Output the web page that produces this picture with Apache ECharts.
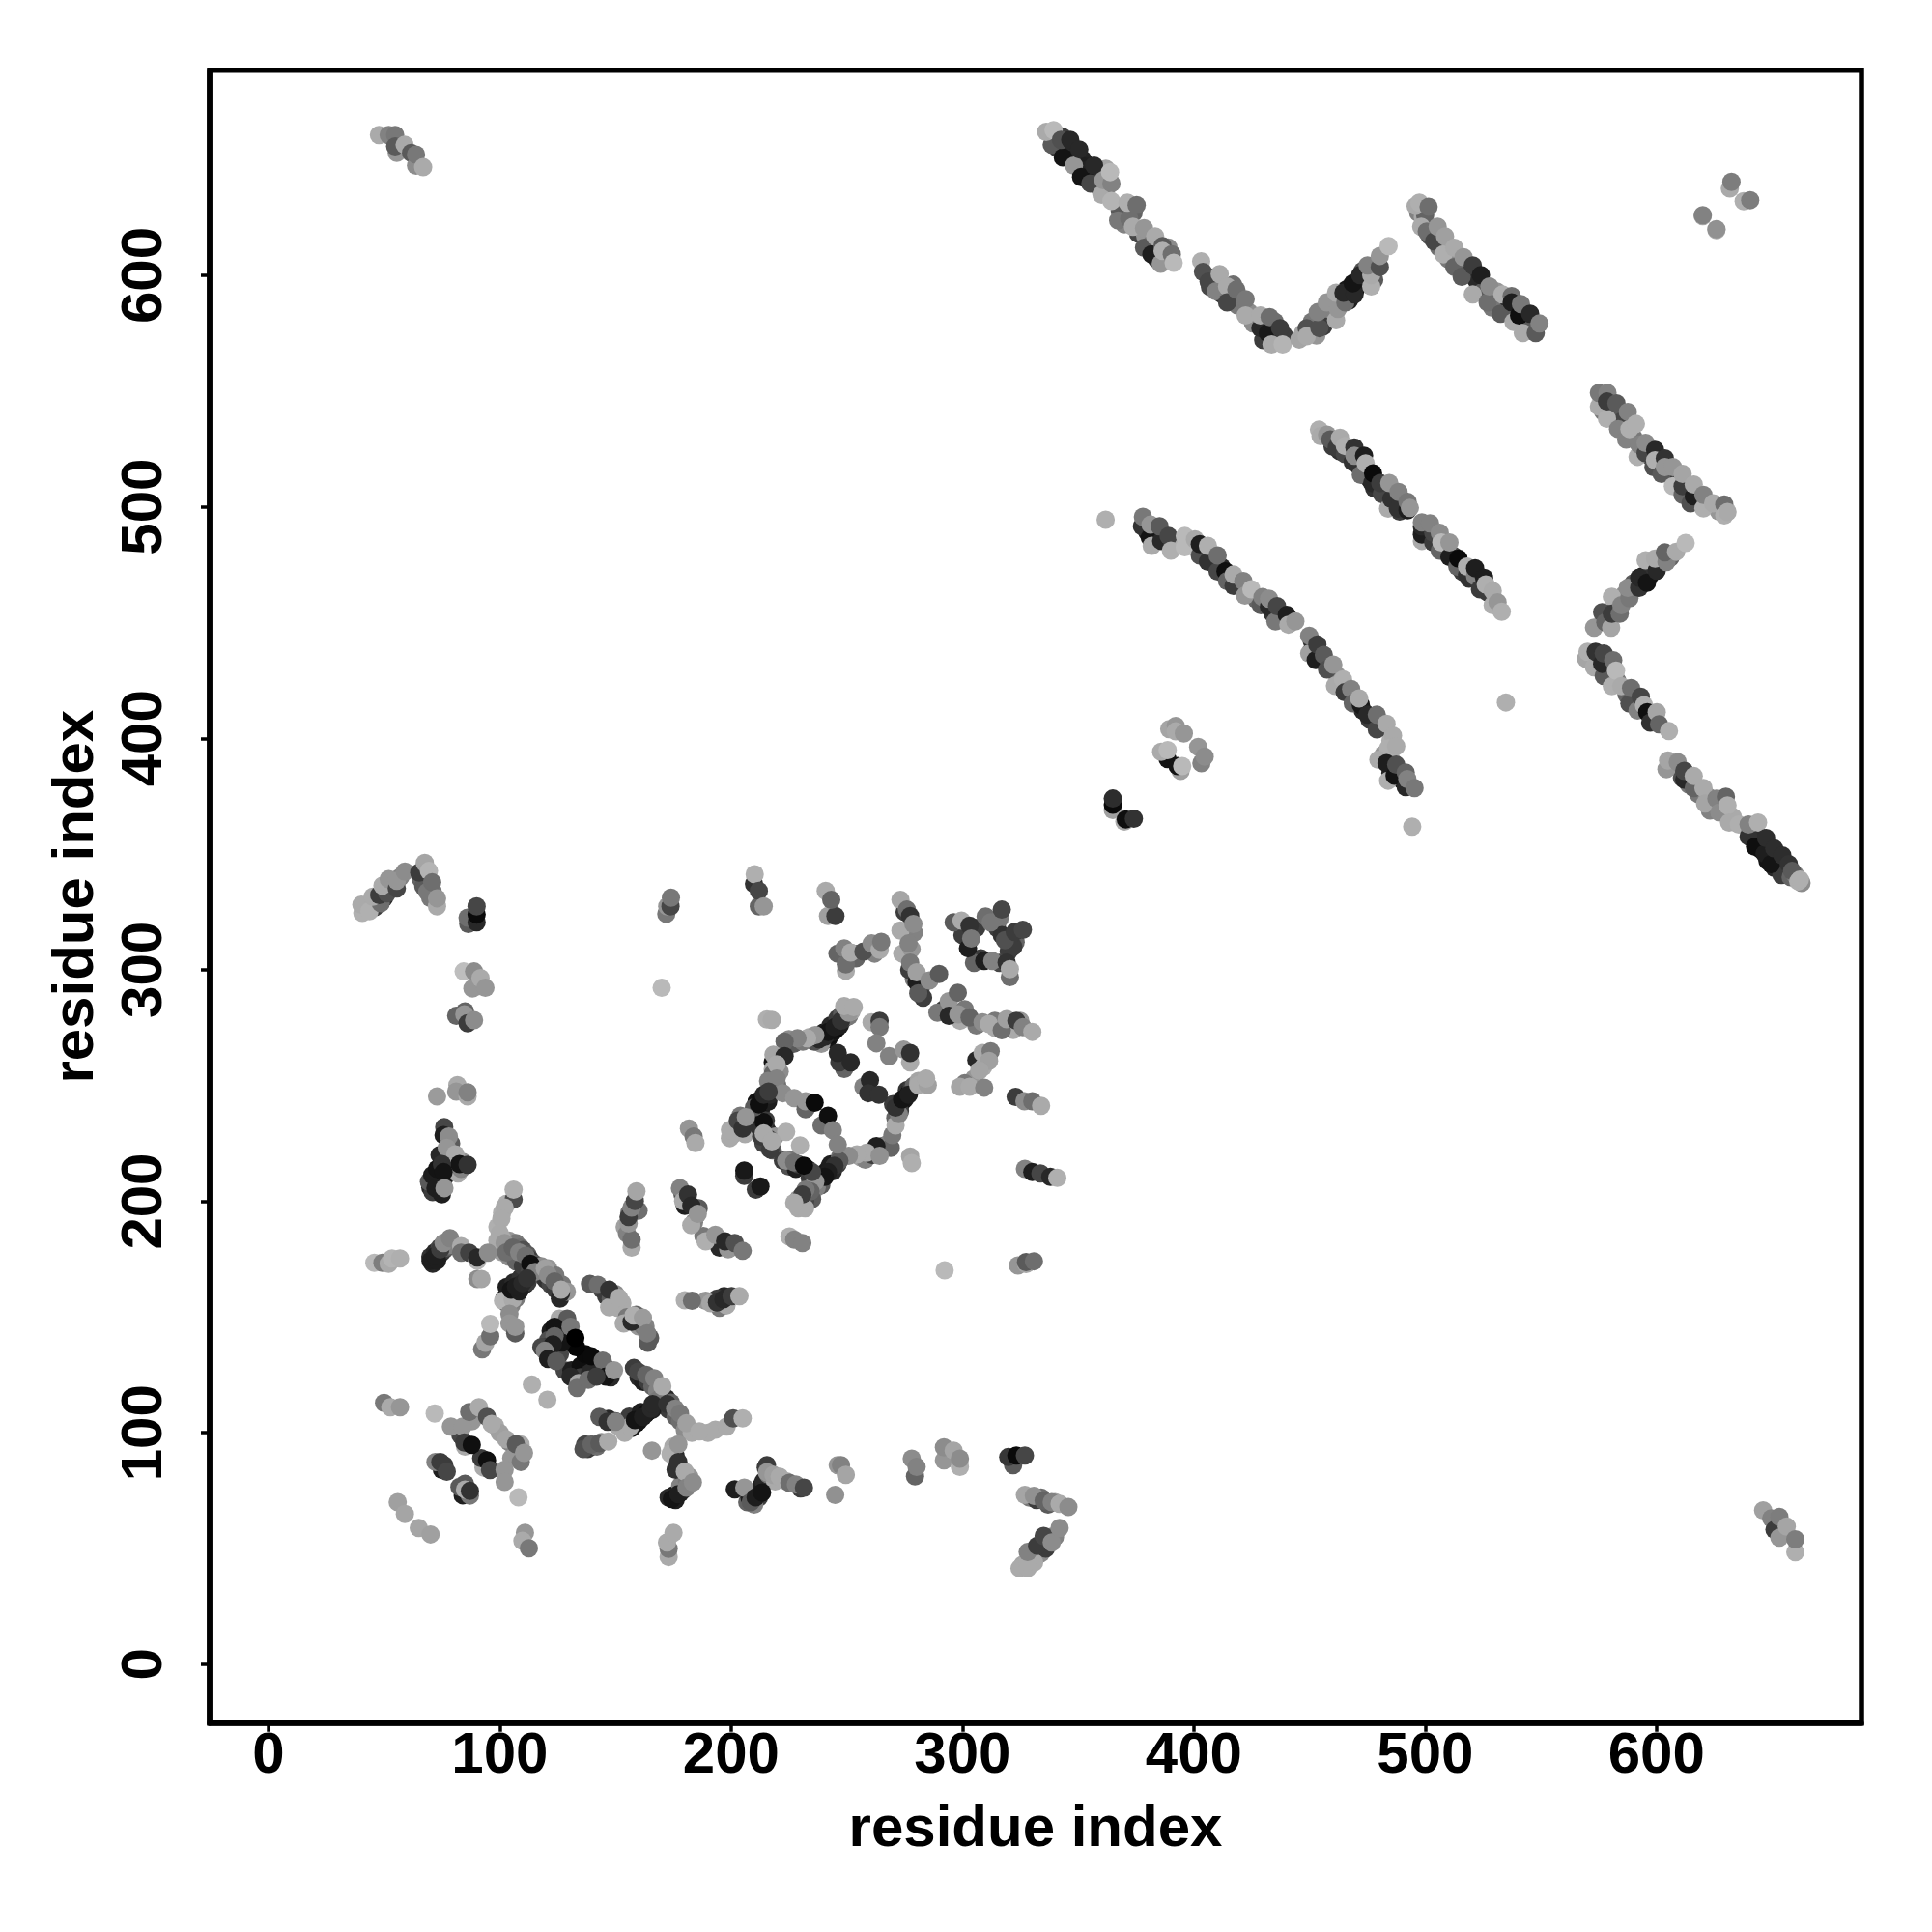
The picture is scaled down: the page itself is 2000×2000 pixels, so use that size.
<!DOCTYPE html>
<html><head><meta charset="utf-8">
<script src="https://cdn.jsdelivr.net/npm/echarts@6/dist/echarts.min.js"></script>
<style>html,body{margin:0;background:#fff}#c{width:2000px;height:2000px}</style></head>
<body><div id="c"></div>
<script>
// each contact: [residue x, residue y, grey level]
const tickValues = [0,100,200,300,400,500,600];
const axisTitle = "residue index";

const underLowerLeft = [
[70,206,40],[71,208,20],[72,209,25],[73,210,15],[74,211,25],[75,213,30],[76,214,20],[77,215,40],[71,204,60],[73,207,25],[74,208,20],[76,210,30],
[71,173,40],[72,175,20],[73,176,30],[74,177,25],[75,178,40],[76,179,60],[77,180,90],[70,176,50],[72,178,40],[74,180,70],[76,182,100],[78,181,130],
[102,158,20],[103,159,20],[104,160,15],[105,160,25],[106,162,15],[107,161,25],[108,163,20],[109,162,35],[110,165,25],[111,164,40],[112,165,60],[103,156,60],[105,155,130],[107,158,120],[103,163,30],[106,165,40],[109,167,50],
[104,183,150],[107,182,120],[109,180,110],[110,179,80],[112,177,90],[113,175,60],[115,173,90],[116,172,70],[118,168,80],[120,166,50],[122,164,70],[124,162,60],[126,158,40],[118,172,140],[121,171,150],[124,168,120],[127,164,120],[129,161,150],[100,180,170],[101,178,160],[104,176,140],[107,174,100],[110,172,60],[113,170,70],
[99,189,175],[99,183,170],[101,195,175],[103,199,175],[101,184,170],
[42,326,150],[44,329,100],[46,327,60],[47,330,50],[50,331,40],[52,335,60],[54,337,110],[57,340,130],[66,339,100],[67,336,90],[71,334,120],[70,331,120],
[127,147,60],[128,143,40],[122,144,30],[121,140,80],[120,137,60],[122,135,40],[118,137,70],[126,134,70],[128,127,70],[131,127,30],[135,129,15],[137,134,10],[141,131,20],[143,127,15],[146,128,40],[148,124,40],[135,124,60],[139,126,40],[133,137,5],[127,139,20],[125,145,50],
[144,162,70],[146,159,60],[148,158,90],[149,155,160],[151,154,170],[150,160,140],[153,156,170],[155,150,120],[160,146,150],[162,146,120],[165,141,90],[163,146,130],[159,151,100],
[158,128,60],[160,124,40],[162,122,30],[164,122,60],[166,120,100],[168,118,130],[170,115,15],[172,115,40],[173,110,60],[174,113,100],[176,107,100],[178,105,110],[180,101,140],[183,100,170],[190,100,170],[155,105,90],[156,107,60],[157,102,25],[159,104,15],[160,105,20],[161,109,30],[163,108,25],[164,109,15],[166,110,30],[168,114,120],[151,103,170],[154,100,170],[147,106,40],[150,105,60],
[137,95,70],[138,93,60],[140,94,60],[142,94,110],[144,96,150],
[175,73,25],[176,71,30],[178,74,25],[179,75,40],[180,77,60],[173,72,40],[178,77,130],[181,79,120],[182,81,150],[176,84,50],[176,90,40],[175,94,170],
[207,70,100],[208,72,30],[209,73,20],[211,74,25],[212,75,15],[213,77,30],[214,79,40],[215,85,60],[212,72,60],[210,69,130],[216,82,120],[219,79,170],[224,79,170],[230,76,60],
[83,99,70],[85,94,170],[93,85,170],[92,89,60],[98,103,170],[100,100,160],[104,96,130],[109,95,170],[88,105,150],[75,84,30],[76,86,60],[84,73,30],[85,78,90],[105,89,150],
[330,46,100],[334,48,140],[336,50,60],[338,55,130],[340,55,130],[331,44,170],[326,43,165],
[329,72,120],[332,71,60],[334,72,110],[337,69,90],[340,70,165]
];
const underLattice = [
[242,270,20],[243,272,15],[244,273,25],[245,274,20],[246,275,15],[247,276,30],[248,278,40],[249,279,80],[251,280,120],[250,283,170],[252,282,165],[240,273,30],[243,276,40],[246,279,60],[248,281,90],[239,268,150],[236,269,80],[238,270,40],
[225,270,140],[227,268,90],[231,269,120],[234,271,170],
[218,260,20],[218,257,170],[221,256,140],[218,255,100],[217,250,130],[220,250,110],[216,252,130],
[210,238,80],[211,243,20],[213,240,30],[213,244,15],[215,245,25],[216,243,30],[217,246,40],[218,249,130],[205,235,60],[207,233,50],[209,236,30],[203,232,60],[204,237,120],[201,229,150],[206,229,170],
[213,236,15],[215,232,30],[216,230,40],[215,235,60],[214,225,70],[218,222,90],[219,228,150],[213,228,60],
[225,215,80],[226,218,120],[228,214,30],[229,216,60],[233,214,40],[234,210,60],[236,211,120],
[238,209,30],[239,211,15],[240,212,20],[242,214,25],[243,216,30],[244,213,40],[246,216,60],[247,219,110],[239,207,90],[237,206,130],[235,201,90],[232,200,70],[229,201,150],[229,197,170],[232,197,170],
[272,240,30],[273,242,20],[274,243,15],[275,244,25],[276,248,50],[277,247,15],[278,249,60],[279,250,100],[281,252,165],[283,251,170],[270,242,60],[271,236,100],[273,239,60],
[256,219,160],[258,218,130],[261,220,60],[263,221,90],[266,224,110],[268,225,130],
[275,325,60],[279,316,130],[274,307,170],[278,309,150],[279,296,120],[277,300,60],[282,292,70],[283,288,60],
[292,283,60],[294,283,100],[296,282,60],[299,278,170],[301,283,120],[306,276,120],[314,275,170],[314,278,120],[320,275,90],[322,274,170],[325,278,150],
[306,318,60],[310,323,110],[315,318,60],[316,322,120],[323,312,100],[320,308,60],[317,315,50],[300,315,60],[308,305,60],[305,303,100],[316,303,70],[322,310,60],
[309,260,120],[306,261,40],[309,258,170],[305,253,150],[301,251,120],
[246,307,100],[253,307,60],[254,305,100],[262,307,130],
[160,196,110],[156,195,120],[154,189,160],[155,186,130],
[179,203,80],[180,198,30],[184,191,130],[188,185,120],[192,183,90],[195,180,40],[200,180,110],[186,197,90],
[85,282,100],[91,293,160],
[84,217,150],[82,212,170],[79,219,60],[74,220,40],[79,225,90],
[195,154,120],[197,159,40],[194,158,60],[198,155,170],[189,157,150]
];
const underTopLine = [
[341,655,60],[344,655,30],[344,653,20],[345,656,50],[346,651,25],[347,653,40],[348,650,20],[350,651,25],[350,648,15],[352,650,35],[352,646,25],[353,647,30],[354,644,25],[355,646,35],[357,642,40],[358,645,60],[353,642,20],[340,659,70],[343,660,60],[359,638,150],[362,637,170],[362,646,165],
[368,628,90],[370,622,130],[374,627,100],[376,618,70],[379,617,150],[380,612,60],[382,614,120],[384,607,50],[388,607,120],[385,609,15],[389,612,140],
[407,595,70],[408,599,80],[412,592,50],[416,590,60],[419,587,120],[417,596,110],[424,584,140],[426,581,150],[431,578,30],[434,578,40],[436,574,30],[435,580,110],[439,574,60],[430,572,60],
[450,576,130],[451,580,120],[456,581,110],[458,584,140],[460,583,130],[463,590,120],[467,589,30],[466,594,25],[470,594,15],[473,597,30],[473,602,80],[478,598,90],[456,578,60],[453,574,150],
[497,627,130],[499,625,170],[502,617,80],[506,612,110],[510,607,120],[514,606,140],[518,601,60],[522,598,40],[525,593,90],[530,589,110],[531,593,150],[535,585,100],[535,589,30],[539,584,100],[543,581,20],[544,578,90],[547,579,60],[546,577,90],[529,586,120],[500,626,100]
];
const underMidLines = [
[380,489,30],[383,488,30],[384,490,60],[387,487,90],[392,484,175],[399,483,185],[404,481,60],[408,478,80],[412,474,40],[416,468,80],[419,467,110],[423,463,130],[427,460,100],[431,458,50],[434,454,50],[437,454,40],[438,451,100],[442,450,170],
[451,442,60],[451,438,30],[454,437,60],[459,431,90],[462,427,150],[466,421,120],[470,417,60],[473,412,40],[476,408,60],[481,405,100],[485,399,175],[485,392,175],[482,393,150],[485,385,40],[488,384,40],[490,382,30],
[460,526,60],[463,524,50],[467,523,60],[471,518,20],[473,515,40],[476,512,20],[478,508,50],[483,505,60],[487,502,30],[490,503,50],[489,498,60],[500,490,30],[501,487,60],[505,485,50],[509,481,40],[512,479,70],[516,472,60],[519,469,50],[523,468,60],[527,463,60],
[577,541,120],[580,542,50],[582,539,90],[585,537,70],[590,530,120],[593,523,100],[597,522,50],[601,519,90],[605,515,100],[609,511,60],[613,507,120],[618,502,50],[622,501,120],[627,498,150],
[577,453,120],[579,451,90],[582,456,90],[586,462,140],[590,467,90],[594,470,30],[597,470,15],[598,474,50],[601,475,60],[606,478,100],
[574,434,40],[575,435,30],[578,431,30],[579,428,130],[583,425,120],[587,419,100],[590,416,60],[592,415,40],[595,412,30],[598,409,80],
[607,388,130],[611,383,80],[614,380,120],[618,376,120],[622,375,140],[626,370,130],[628,371,130],[633,366,170],[641,359,40],[644,354,20],[645,352,15],[648,351,25],[648,347,20],[651,350,30],[652,346,25],[655,346,40],[656,343,60],[644,358,45],[651,344,40],[654,341,60],[658,340,100],[660,341,130]
];

const blockFarLeft = [
[40.6,324.6,176],[40.2,328.1,170],[43.7,325.3,176],[48.6,328.8,110],[45.1,331.6,170],[47.9,332.3,60],[51.3,333,80],[49.3,336.4,170],[52,339.2,150],[55.5,335.1,70],[55.5,338.5,150],[59,342.4,140],
[65.2,342,60],[67.6,346.2,165],[69.4,342.7,180],[68.7,333.7,120],[70.8,337.8,110],[72.9,327.4,170],[72.9,330.9,150],
[86.4,319.8,90],[86.1,322.5,110],[90,320.5,40],[90,323.9,10],[90,327.4,70],
[84.4,299.3,190],[88.9,299.3,140],[88.2,291.9,150],[91.7,296.4,170],[93.8,292.2,150],
[81.2,280.1,100],[84.7,280.8,150],[86.1,276.9,60],[88.9,278.3,140],
[72.9,245.3,155],[81.7,250.2,170],[81.2,247.4,150],[86.1,245.3,170],[86.1,247.1,130],
[76,232.1,70],[75.7,228.6,30],[78,228,140],[77.1,223.1,150],[80.8,220.3,170],[83.3,214,130],[82.6,216.1,20],[86.1,215.8,50],
[69.4,208.5,90],[70.8,211.3,30],[72.9,214,20],[75,216.1,50],[75.7,212.6,20],[72.2,205.7,30],[75,203,30],[76.1,205.7,150]
];
const blockBand100to170 = [
[45.8,173.4,185],[49.3,173.4,125],[52,173,170],[53.4,175.3,180],[56.9,175.3,175],
[70.1,174.3,30],[72.9,174.3,30],[72.2,176.4,30],[74.3,179.2,60],[75.7,182,140],[78.5,184.1,130],
[83.3,180.6,170],[83.3,177.8,110],[86.8,177.8,65],[90.3,174.3,180],[90.3,175.7,40],[94.9,177.8,140],[90.3,166.4,140],[92.1,166.4,165],
[106,200.8,75],[106,205,175],[102.1,197.3,170],[100.7,192.5,170],[100,186.2,170],[102.1,182,150],[102.8,177.9,110],[105.6,180,100],[108.4,177.9,130],[111.2,176.5,110],[113.2,173,15],[115.3,169.5,130],
[101.4,157,180],[105.6,157.7,170],[104.9,161.8,20],[108.4,161.1,30],[107,163.2,30],[109.8,164.6,40],[111.8,166.7,50],
[119.5,170.9,160],[120.9,168.1,140],[123.7,165.4,100],[126.5,160.4,40],[126.5,161.8,170],
[104.2,151.4,140],[104.2,147.2,150],[106.7,143,90],[106.7,145.8,150],
[92.4,136.1,120],[93.8,138.9,165],[95.9,141.7,110],[95.9,147,185],
[125.8,149.3,170],[129.2,149.3,90],[123.7,145.8,20],[130.6,145.8,120],[132.7,141,0],[123.7,141.7,100],[123,138.2,30],[119.5,135.4,130],[120.9,131.9,30],[124.4,131,90],
[139.7,133,10],[144.5,131.2,110],[145.9,124.3,20],[149.4,127,150],[130.6,124.3,40],[134.1,121.5,165],[133.4,119.4,110],[138.3,122.9,110],[141.8,124.3,60],
[113.9,120.8,175],[120.6,114.3,175],
[139,164.3,90],[142.4,163.9,110],[147.3,154.2,170],[147.3,161.8,50],[151.5,158.3,170],
[153.6,147.2,170],[157,148,40],[157.8,150.7,175],[161.9,149.7,155],[164,138.9,90],[163.7,143,125],
[180,157.2,175],[183.1,157,110],[191.1,156,165],[193.9,156.3,50],[196.7,157.7,40],[200.2,159,60],[203.6,159,170]
];
const blockBandLower = [
[159.8,126.4,70],[163.3,125,100],[166.8,123.6,130],[170.3,120.1,170],
[156.4,102.7,170],[158.4,105.5,20],[161.9,106.9,30],[165.4,110.4,40],[166.1,112.4,40],
[172.4,112.4,50],[175.8,110.4,130],[177.9,108.3,120],[180.7,104.1,160],[186.3,100.6,170],[193.2,101.3,170],[198.1,102.7,170],[200.9,106.2,80],[205,106.2,175],
[143.1,106.9,90],[146.6,104.8,50],[150.1,104.8,130],
[136.2,93,80],[139.7,95,100],[143.1,95.5,90],[146.9,96.2,170],
[165.8,92.3,150],
[173.8,90.9,175],[177.2,95,150],[177.2,87.4,50],[180,83.2,170],[174.4,71.4,20],[177.2,73.5,30],[180.7,76.3,130],[183.5,78.6,140],
[173,46.4,170],[173,49.9,120],[172.3,52.6,170],[175.1,56.8,170]
];
const blockNearOrigin = [
[50,112.9,120],[52.7,111,170],[56.9,111,150],
[71.9,108.3,185],
[78.9,102.7,150],[84,102.7,150],[86.8,109,110],[91,111,170],[94.5,106.9,80],[96.5,103.8,170],
[84.7,95.8,60],[87.9,94.8,15],[94.5,88.1,15],[95.8,83.9,70],[102.8,97.2,165],[107,95.1,90],[109.1,87.4,120],[110.5,91.3,150],[102.1,84,150],[102.1,78.8,150],[108.1,72.1,185],
[72.2,87.4,130],[74.3,87.4,60],[77.1,83.2,70],
[87.1,72.9,120],[82.6,76.6,90],[85,75.5,170],[87.1,74.9,50],
[55.9,70,160],[59,64.9,165],[65,58.9,165],[70.1,56.1,160],
[110.9,56.8,150],[109.8,53.3,170],[112.6,50.1,120],
[201.6,75.6,30],[205.7,76.3,150],[208.5,70,90],[210.6,72.1,30],[213.4,74.2,20],[215.5,86,60],[215.5,83,150],[218.3,81.8,160],[221,81,170],[225.2,78.4,110],[228,77.7,130],[231.5,76.3,70],
[246.1,86,150],[247.5,86,130],[249.6,81.8,165],[245,73.2,145],
[279.5,81.2,100],[278.1,88.8,140],[280.2,85.3,130],
[292,88.1,150],[292,93.7,140],[298.9,85.3,175],[296.2,92.3,165],[298.9,88.8,140],
[321.9,86,90],[319.8,89.5,55],[323.3,90.2,10],[327,90.2,70],
[327,73.2,165],[330.9,72.8,145],[335.1,70.7,100],[338.6,70,130],[342,69.3,170],[345.8,67.9,140],
[324.7,41.5,170],[328.2,41.5,170],[328.2,44.3,170],[328.2,48.5,130],[332.3,51.2,60],[335.1,55.4,70],[338.6,52.6,140],[342,58.9,140]
];
const blockUpperRow = [
[172,324.2,120],[172.4,327.4,150],[173.8,327.4,70],[174,331.2,120],
[170,292.2,185],
[209.9,337.1,50],[210.2,341.3,175],[212,327.4,100],[212,334.1,70],[214.1,327.4,150],
[240.9,334.1,170],[241.9,323.2,160],[245.1,323.2,60],[243.3,330.2,100],
[248.9,309.3,130],[249.6,299.6,170],[249.6,302.4,110],[251.7,307.5,170],[257.2,307.9,80],[260.7,311.4,140],[264.2,308.6,170],[264.9,312.1,120],
[273.2,330.2,165],[276,326,110],[277.4,323.2,50],[273.2,317,170],[278.8,319.8,140],[276.7,311.4,130],[277.4,303.1,120],[280.2,294.7,30],[280.2,298.9,160],[280.9,289.9,90],[285.7,295.4,140],[289.9,298.2,90],
[296.2,320.5,90],[299.6,321.2,170],[303.1,319.1,50],[302.4,309.3,30],[303.8,313.5,120],[312.2,320.5,120],[317,326,70],[318.4,312.8,80],[322.6,316.3,60],[326.1,317.3,70],[309.4,303.8,30],[312.9,303.8,130],[319.1,303.1,50],[320.5,296.8,110],[320.5,300.3,170],
[289.2,281.5,120],[294.1,286.4,150],[298,290.1,100],[294.1,280.1,40],[298.2,280.8,150],[303.1,279.4,100],[308.7,277.3,140],[311.5,276.6,170],[317,273.9,110],[319.1,278.7,160],[323.3,278,60],[326.1,275.2,130],[330.2,273.2,170],
[308.7,264.1,170],[312.2,264.8,120],[311.5,260.6,160],[307.3,256.5,165],[298.9,249.5,165],[303.1,249.5,170],[309.4,249.1,130],
[323,245.1,60],[326.8,243.2,140],[330.2,243.2,110],[334,241.2,170],
[327,214,130],[330.2,212.6,30],[333.7,212,70],[338,210.6,40],[341,210.1,175],
[324,172.3,150],[327.5,172.9,165],[327.5,173.7,90],[330.9,174.1,110]
];
const blockLattice = [
[292.3,170.2,185],[277.4,219.3,165],[278.1,216.5,175],
[215.5,278.6,175],[217.6,278.4,170],
[240.5,271.1,40],[241.9,273.2,20],[244.7,275.2,30],[247.5,278,50],[250.9,281.5,150],[248.9,284.3,170],[253,283.9,170],
[236.4,271.8,150],[232.9,270.4,170],[228.7,270.4,130],[223.1,269,100],[218.3,263.4,165],[223.1,262.7,40],[219.7,259.2,170],[219.7,253,130],
[248.9,257.2,100],[246.8,260,60],[246.1,264.1,40],[251.7,260,40],
[260.7,277.3,170],[264.2,278,60],[264.2,275.2,120],[262.8,268.3,130],[268.3,262.7,130],[277.4,260,170],[274.6,265.5,150],[277.4,264.1,50],
[257.2,249.5,130],[260,252.3,40],[259.3,246.7,50],[263.9,246,50],
[269,223.1,100],[269.7,228.6,120],[271.1,232.8,170],[272.5,237.7,130],[271.1,240.5,50],[273.9,244,20],[276.7,246,30],[280.9,250.2,170],[285,250.2,160],[284.3,253,170],
[262.8,223.8,30],[258.6,221,170],[254.4,220.3,170],[264.2,219.6,145],[250.9,219.6,140],[246.8,217.5,90],[244.7,215.4,50],[241.9,212.6,30],[240.5,210.6,20],[236.4,208.5,150],[234.3,204.3,100],[232.2,205,120],[230.8,202.9,60],[227.3,199.4,170],
[222.4,217.5,60],[223.8,217.5,140],[227.3,216.8,110],[235,212.6,70],[231.5,215.4,10],[229.8,224.1,175],[223.8,230,175],
[239.1,232.8,110],[241.9,237,15],[244,230.7,130],[246.1,224.5,130],
[222.4,246.7,140],[227.3,244.6,150],[232.2,239.8,100],[232.2,243.2,150],[236.1,242.6,10],
[212,232.1,50],[214.1,234.2,15],[216.2,227,60],[216.9,222.4,60],[214.1,229.3,170],[217.6,225.9,170],
[199.5,227.3,170],[199.5,230.8,170],[202.9,234.9,70],[205,231.4,50],[209.9,240.5,90],[206.4,236.3,150],[212,241.9,15],[214.1,246,40],[216.2,247.4,60],
[205.7,211,60],[205.7,213.3,25],[210.7,205,60],[212.7,206.4,25],
[181.8,231.4,150],[183.8,228,120],[184.6,225.2,170],
[157,180,170],[157,183.4,110],[155.7,190.4,150],[155.7,193.2,60],[157,197.3,130],[158.4,200.1,70],[159.1,204.3,165],
[177.9,205.7,130],[179.3,200.1,170],[181.4,202.9,50],[182.8,198.1,40],[182.8,189.7,170],[185.6,194.6,150],
[189,182.7,175],[193.2,185.5,150],[198.8,179.3,150],[197.4,182.7,40],[201.6,182,80],[205,178.6,120],
[225.2,184.8,175],[227.3,183.4,130],[230.8,182,130]
];
const blockTopLeftCorner = [
[47.8,660.6,170],[52,660.6,130],[54.8,660.6,120],[55.5,652.9,150],[54.8,655.7,90],[58.9,656.4,170],[61.7,652.9,90],[63.8,647.4,140],[63.8,652.2,120],[66.9,646.7,170]
];
const blockTopLine = [
[338.6,656.4,90],[336.2,662,170],[339.4,662.7,185],[343.4,650.9,20],[342.6,658.5,80],[346.6,658.5,40],[348.2,647.4,150],[351.3,642.5,20],[350.5,654.4,40],[355.3,639.7,70],[356.9,647.4,40],[360.1,634.9,170],[360.9,641.1,150],[364.4,639.7,130],[363.8,644.6,185],[364.4,632.1,180],
[367.3,623.7,120],[372.1,624.4,110],[371.3,631.4,175],[375.3,630.4,110],[373.7,621,170],[378.5,611.9,90],[378.5,620.3,150],[381.7,609.1,30],[383.3,616.8,170],[385.7,605,150],[386.5,612.6,90],[386.5,610.5,175],[390.5,609.1,110],[391.3,605.4,185],
[403.2,606.1,175],[404,601.5,80],[406.4,597.3,70],[409.6,593.1,130],[411.2,600.5,170],[414.4,595.2,170],[414.4,588.3,70],[418.4,593.8,110],[422.4,589.7,120],[425.6,579.2,140],[422.4,582.7,170],[428.8,577.2,40],[432,575.1,25],[428.8,582.7,170],[432.8,582,110],[437.3,577.2,60],[433.6,570.2,170],[438.4,570.2,180],
[445.6,572.3,165],[447.2,575.1,165],[448.8,577.2,80],[448.8,573.7,170],[454.3,577.2,80],[453.6,584.1,130],[461.5,580.6,170],[457.5,588.3,150],[462.3,585.5,150],[461.5,592.5,170],[465.5,588.3,110],[464.7,592.5,40],[469.5,591.8,40],[468.7,596.6,20],[471.9,600.1,40],[476.7,595.2,175],[476.7,600.1,170],[475.1,604.3,130],[480.4,603.6,80],[480.4,608.4,150],[484.2,612.6,185],
[495.9,630,170],[497.5,631.4,175],[501.5,629.6,110],[498.3,621,170],[500.7,618.9,110],[503.9,614.7,70],[505.4,621,150],[507.9,609.1,175],[508.6,616.8,160],[512.6,603.6,100],[512.6,611.9,170],[515.8,599.4,90],[516.6,607.8,150],[520.6,604.3,60],[520.6,591.8,170],[524.1,600.1,30],[527,588.3,110],[527.8,595.2,140],[532.6,583.4,90],[533.4,591.8,175],[538.2,579.9,170],[537.4,591,110],[537.4,588.3,30],[540.6,582.7,15],[541.4,587.6,120],[542.2,575.1,170],[545.4,583.4,40],[547.8,575.1,90],[549.4,579.2,130]
];
const blockMidLeftLine = [
[361.9,494.4,175],
[377.6,491.6,50],[378,495.7,120],[381,486.7,20],[381.8,483.2,170],[381.3,492.3,150],[385.9,485.3,40],[385.2,491.6,90],[389.1,487.4,70],[390.1,481.1,175],[396.1,487.4,185],[396.1,482.5,185],[400.5,486,170],
[402.6,479,80],[402.6,483.9,30],[406.1,476.3,50],[406.1,483.2,175],[410.3,472.1,70],[410.3,479,110],[413.7,472.1,15],[414.4,467.9,100],[417.2,465.8,60],[417.2,470.7,170],[421.4,467.9,130],[422.1,461.7,150],[424.9,464.4,185],[429,457.5,90],[429.7,461,130],[432.5,456.8,40],[432.5,460.3,140],[435.3,450.5,120],[436,457.1,70],[440.2,453.3,30],[440.9,449.1,170],[443.9,450.5,150],
[449.9,436.6,160],[449.9,444.3,130],[452.7,433.8,30],[453.4,440.5,60],[456.2,436,90],[457.6,429.7,80],[461,422.7,170],[460.3,431.8,150],[464.5,425.5,175],[465.2,419.9,60],[468,421.3,130],[468.7,415.1,100],[472.2,414.4,25],[471.5,417.2,170],[475,410.2,40],[479.1,403.9,70],[479.1,410.2,110],[483.3,406.3,170],[486.1,401.2,170],[484,395.6,175],[487.5,396.6,170],
[479.8,390.7,170],[483.3,389.3,30],[484,381.7,175],[486.8,383.8,20],[487.5,388.6,80],[491.6,378.9,40],[491.6,385.2,100],[492.3,382.4,130],[495.4,378.5,120],
[494.4,361.8,175],[534.9,415.5,175]
];
const blockSmallClusters = [
[389.4,404,165],[392.2,405.3,150],[392.2,403,170],[395.7,402.1,150],
[388.7,391,20],[385.9,394.2,170],[388.7,394.9,185],[394.3,385.9,160],[393,388,20],[395,388,185],[401.9,396.3,150],[403.3,389.3,130],[404.7,392.1,140],
[365,369,160],[365,371.3,10],[365,374,45],[370,364,170],[370.6,365,15],[374.1,365.3,50],
[620,625.6,170],[620,626,130],[625.9,619.5,175],[625.9,619.9,145],[631.7,637.6,170],[632.4,640.4,125],[637.7,632,175],[640.5,632.5,125],
[646.1,66.5,160],[649.6,63,130],[651,58.1,60],[653.1,63.7,125],[653.1,54.7,150],[656.3,59.5,165],[660,48.4,175],[660,54,125]
];
const blockMiddleLine = [
[454.1,533.3,175],[454.8,530.5,170],[457.6,531.2,150],[459,529.1,90],[461.8,525.6,60],[463.2,529.8,170],[465.3,522.8,70],[465.3,526.3,175],[468.7,519.4,50],[469.4,525.6,50],[469.4,522.1,140],[472.2,513.8,110],[473.6,522.1,30],[474.3,518.7,175],[477.1,510.3,40],[477.5,514.5,10],[481.3,505.5,70],[480.6,510.3,60],[484,499.2,170],[485.4,503.4,50],[484.5,510.3,150],[488.2,499.2,50],[488.5,506.4,130],[492.4,498.5,30],[492.4,502.2,120],[493.4,499.5,150],
[498.6,485.3,170],[498.6,488.1,30],[498.6,491.5,40],[498.6,493.3,130],[503.5,484.6,60],[503.5,488.8,70],[502.1,492.9,130],[506.3,481.1,100],[506.3,488.8,140],[507,484.6,185],[510.5,478.3,30],[510.5,484.6,150],[513.9,474.2,100],[514.4,477.6,10],[518.1,470.7,50],[518.1,474.2,175],[521.6,470,130],[521.6,473.5,30],[523.7,464.4,60],[525.5,469.3,30],[526.2,466.5,175],[529.2,457.5,175],[529.2,463.7,170],[531.3,458.8,150],[533.1,454.7,175]
];
const blockRightLines = [
[575.1,543.3,170],[575.1,549.2,120],[578.8,549.2,130],[578.6,538,175],[578.6,545.5,60],[583.4,533.6,130],[582.7,544.7,90],[586.9,529.1,130],[587.6,541,130],[588.3,533.6,175],[591.1,535.8,175],[591.8,521.6,175],[592.5,526.9,130],[595.3,523.1,70],[595.3,527.6,140],[598.7,517.2,80],[599.4,524.6,40],[599.4,520.1,175],[602.2,514.2,90],[603.6,520.9,50],[603.6,517.2,150],[607.1,508.9,185],[607.1,517.2,150],[611.3,505.2,100],[611.3,508.9,60],[611.3,514.2,165],[614.7,501.5,80],[616.1,504.5,30],[616.1,509.7,170],[620.3,499.3,175],[620.3,505.2,130],[624.5,501.5,170],[629.3,501,110],[629.3,496.3,175],[630.7,497.8,170],
[573,447.8,150],[576.5,454.5,80],[577.9,450.1,100],[580.4,447.8,165],[580.7,461.2,175],[580.7,453.8,60],[584.1,453.8,110],[584.8,457.5,130],[588.3,460.5,120],[587.6,465,140],[592.5,465,50],[592.5,469.4,40],[595.9,467.2,20],[595.3,476.9,175],[600.1,472.4,40],[599.4,477.6,170],[604.3,476.2,130],[603.6,480.3,100],[608.5,480.6,170],[612.6,484.4,185],
[569.5,434.4,165],[570.2,437.4,175],[573,430.7,170],[573.7,437.4,50],[577.2,426.9,90],[576.5,432.2,40],[577.2,436.6,70],[581.3,433.7,110],[580.7,422.5,175],[582.5,429.2,185],[584.8,422.5,170],[588.3,415,80],[589,421.7,110],[591.8,412,130],[593.2,418,70],[594.6,414.3,175],[596,411.3,15],[597.3,406.8,50],[600.1,411.3,165],[601.1,406.1,100],[605.4,403.1,175],
[604.3,386.7,150],[605,390.4,165],[609.2,389.7,140],[612,382.2,40],[612,385.9,70],[616.1,378.5,100],[616.1,383.7,170],[620.3,378.5,170],[623.1,368.8,130],[621,371.8,165],[625.9,373.9,130],[627.2,368,140],[630,374.8,100],[630.7,371,175],[631.4,363.6,170],[635.6,362.8,175],
[639.8,357.6,50],[639.8,362.8,130],[642.6,353.2,15],[643.9,363.6,175],[646.7,350.2,30],[647.4,356.9,45],[649.5,345.7,20],[650.9,352.4,45],[654.4,349.4,45],[657.2,345.7,50],[658.6,342.7,90],[662.7,337.5,140],[661.3,338.2,175],[662,339,175]
];

const contacts = [].concat(underLowerLeft, underLattice, underTopLine, underMidLines, blockFarLeft, blockBand100to170, blockBandLower, blockNearOrigin, blockUpperRow, blockLattice, blockTopLeftCorner, blockTopLine, blockMidLeftLine, blockSmallClusters, blockMiddleLine, blockRightLines);

const font = "'Liberation Sans', Helvetica, Arial, sans-serif";
const axisBase = {
  type: "value", min: -25.4, max: 688.6, name: axisTitle, nameLocation: "middle",
  nameTextStyle: {fontFamily: font, fontWeight: "bold", fontSize: 60, color: "#000"},
  splitLine: {show: false},
  axisLine: {show: true, onZero: false, lineStyle: {color: "#000", width: 5.5}},
  axisTick: {show: true, customValues: tickValues, length: 9, lineStyle: {color: "#000", width: 3.5}}
};
const chart = echarts.init(document.getElementById("c"), null, {renderer: "canvas"});
chart.setOption({
  animation: false, backgroundColor: "#fff",
  grid: {left: 217, top: 72.7, width: 1710, height: 1711, show: true, borderColor: "#000", borderWidth: 5.5, backgroundColor: "#fff"},
  xAxis: Object.assign({}, axisBase, {nameGap: 80.5,
    axisLabel: {customValues: tickValues, margin: 5, fontFamily: font, fontWeight: "bold", fontSize: 60, color: "#000"}}),
  yAxis: Object.assign({}, axisBase, {nameGap: 108,
    axisLabel: {customValues: tickValues, margin: 37, rotate: 90, fontFamily: font, fontWeight: "bold", fontSize: 60, color: "#000"}}),
  series: [{
    type: "scatter", data: contacts, symbol: "circle", symbolSize: 19, progressive: 0, silent: true,
    encode: {x: 0, y: 1},
    itemStyle: {opacity: 1, color: p => { const g = p.value[2]; return `rgb(${g},${g},${g})`; }}
  }]
});
</script></body></html>
